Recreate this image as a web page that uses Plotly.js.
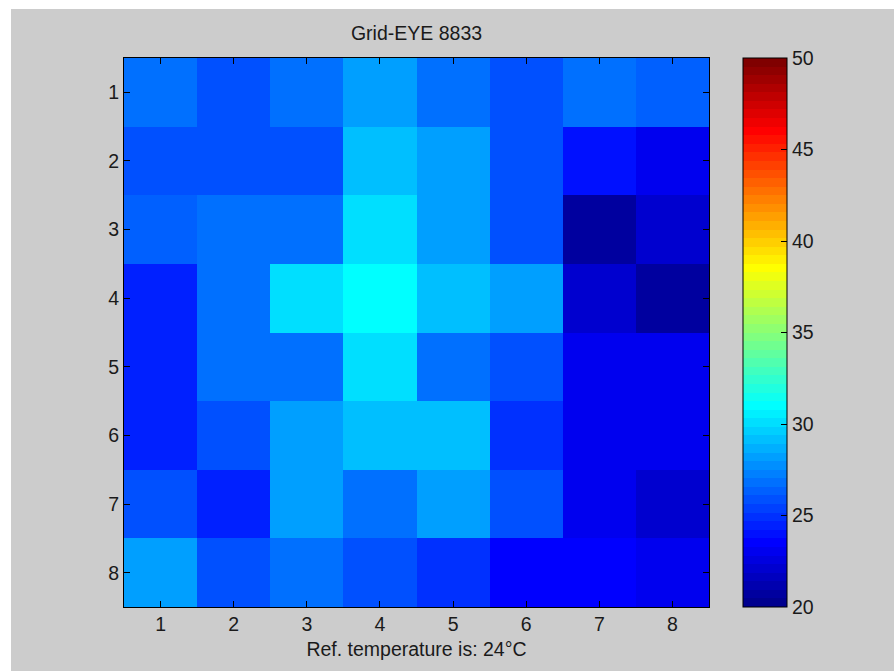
<!DOCTYPE html>
<html>
<head>
<meta charset="utf-8">
<script src="https://cdn.plot.ly/plotly-3.0.1.min.js"></script>
<style>
  html, body { margin: 0; padding: 0; background: #ffffff; width: 894px; height: 671px; overflow: hidden; }
  #chart { position: absolute; left: 11px; top: 9px; width: 883px; height: 662px; }
</style>
</head>
<body>
<div id="chart"></div>
<script>
// Grid-EYE 8x8 temperature readings (°C), row by row
const row1 = [26.75, 25.75, 26.75, 28.25, 26.75, 25.75, 26.75, 26.25];
const row2 = [25.75, 25.75, 25.75, 29.25, 28.25, 25.75, 24.0, 23.0];
const row3 = [26.25, 26.75, 26.75, 30.0, 28.25, 25.75, 20.75, 22.25];
const row4 = [24.5, 26.75, 30.0, 31.0, 29.25, 28.25, 22.25, 20.75];
const row5 = [24.5, 26.75, 26.75, 30.0, 26.75, 25.75, 23.0, 23.0];
const row6 = [24.5, 25.75, 28.25, 29.25, 29.25, 25.0, 23.0, 23.0];
const row7 = [25.75, 24.5, 28.25, 26.75, 28.25, 25.75, 23.0, 22.25];
const row8 = [28.25, 25.75, 26.75, 25.75, 25.0, 23.5, 23.5, 23.0];
const columns = [1, 2, 3, 4, 5, 6, 7, 8];
const rows = [1, 2, 3, 4, 5, 6, 7, 8];
const colorTicks = [20, 25, 30, 35, 40, 45, 50];
const zMin = 20, zMax = 50;

// MATLAB jet(64) colormap as a stepped colorscale
function jet64() {
  const m = 64, n = 16, scale = [];
  const u = k => (k >= 1 && k <= 16) ? k / n : (k >= 17 && k <= 31) ? 1 : (k >= 32 && k <= 47) ? (48 - k) / n : 0;
  for (let j = 1; j <= m; j++) {
    const r = u(j - 24), g = u(j - 8), b = u(j + 8);
    const c = 'rgb(' + Math.round(r * 255) + ',' + Math.round(g * 255) + ',' + Math.round(b * 255) + ')';
    scale.push([(j - 1) / m, c]);
    scale.push([j / m, c]);
  }
  return scale;
}

const font = { family: 'Liberation Sans, Arial, sans-serif', size: 19.5, color: '#1a1a1a' };

const trace = {
  type: 'heatmap',
  x: columns,
  y: rows,
  z: [row1, row2, row3, row4, row5, row6, row7, row8],
  zmin: zMin,
  zmax: zMax,
  colorscale: jet64(),
  hoverinfo: 'z',
  colorbar: {
    x: 1.058, xanchor: 'left', xpad: 0,
    y: 0.5, yanchor: 'middle', ypad: 0,
    len: 1, lenmode: 'fraction',
    thickness: 44,
    outlinewidth: 1, outlinecolor: '#000',
    tickmode: 'array', tickvals: colorTicks,
    ticks: 'inside', ticklen: 6, tickwidth: 1, tickcolor: '#000',
    tickfont: font
  }
};

const layout = {
  width: 883, height: 662,
  margin: { l: 113, r: 185, t: 49, b: 64 },
  paper_bgcolor: '#cccccc',
  plot_bgcolor: '#cccccc',
  font: font,
  title: {
    text: 'Grid-EYE 8833',
    font: font,
    x: 0.5, xref: 'paper', xanchor: 'center',
    y: 1 - 24 / 662, yref: 'container', yanchor: 'middle'
  },
  xaxis: {
    range: [0.5, 8.5],
    tickmode: 'array', tickvals: columns,
    ticks: 'inside', ticklen: 6, tickcolor: '#000',
    showline: true, linecolor: '#000', linewidth: 1, mirror: 'ticks',
    showgrid: false, zeroline: false,
    tickfont: font,
    title: { text: 'Ref. temperature is: 24°C', font: font, standoff: 7 }
  },
  yaxis: {
    range: [8.5, 0.5],
    tickmode: 'array', tickvals: rows,
    ticks: 'inside', ticklen: 6, tickcolor: '#000',
    showline: true, linecolor: '#000', linewidth: 1, mirror: 'ticks',
    showgrid: false, zeroline: false,
    tickfont: font
  }
};

Plotly.newPlot('chart', [trace], layout, { displayModeBar: false, staticPlot: true });
</script>
</body>
</html>
